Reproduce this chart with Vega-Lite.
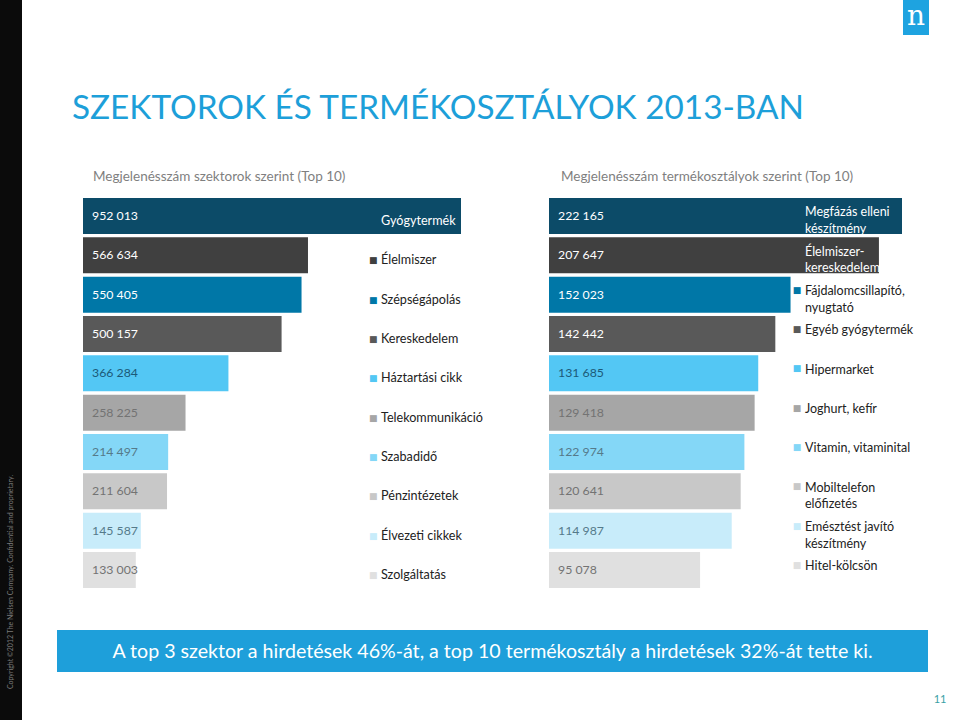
{
  "$schema": "https://vega.github.io/schema/vega-lite/v6.json",
  "padding": 0,
  "background": "white",
  "spacing": 0,
  "bounds": "full",
  "config": {"view": {"stroke": null}, "font": "Lato", "concat": {"spacing": 0}},
  "hconcat": [
    {
      "spacing": 0,
      "bounds": "flush",
      "vconcat": [
        {"width": 22, "height": 444, "view": {"fill": "#0b0b0b", "stroke": null}, "data": {"values": [{}]}, "mark": "text", "encoding": {"text": {"value": ""}}},
        {"width": 22, "height": 276, "view": {"fill": "#0b0b0b", "stroke": null},
         "data": {"values": [{"t": "Copyright ©2012 The Nielsen Company. Confidential and proprietary."}]},
         "mark": {"type": "text", "angle": 270, "fontSize": 7, "color": "#7a7a7a", "align": "center", "baseline": "middle"},
         "encoding": {"text": {"field": "t"}}}
      ]
    },
    {
      "spacing": 0,
      "bounds": "full",
      "vconcat": [
        {
          "spacing": 0, "bounds": "flush",
          "hconcat": [
            {"width": 881, "height": 130,
             "title": {"text": "SZEKTOROK ÉS TERMÉKOSZTÁLYOK 2013-BAN", "orient": "top", "anchor": "start", "frame": "group", "dx": 50, "offset": -152, "baseline": "alphabetic", "fontSize": 33.3, "fontWeight": "normal", "color": "#1d9fd9", "font": "Lato"},
             "data": {"values": [{}]}, "mark": "text", "encoding": {"text": {"value": ""}}},
            {"width": 26, "height": 35, "view": {"fill": "#1ea3e0", "stroke": null},
             "data": {"values": [{"t": "n"}]},
             "mark": {"type": "text", "font": "DejaVu Serif", "fontSize": 28, "color": "white", "align": "center", "baseline": "middle", "dy": -1},
             "encoding": {"text": {"field": "t"}}}
          ]
        },
        {
          "spacing": 0, "bounds": "flush",
          "hconcat": [
            {"width": 527, "height": 68,
             "title": {"text": "Megjelenésszám szektorok szerint (Top 10)", "orient": "top", "anchor": "start", "frame": "group", "dx": 71, "offset": -64, "baseline": "alphabetic", "fontSize": 13.5, "fontWeight": "normal", "color": "#7f7f7f", "font": "Lato"},
             "data": {"values": [{}]}, "mark": "text", "encoding": {"text": {"value": ""}}},
            {"width": 411, "height": 68,
             "title": {"text": "Megjelenésszám termékosztályok szerint (Top 10)", "orient": "top", "anchor": "start", "frame": "group", "dx": 12, "offset": -64, "baseline": "alphabetic", "fontSize": 13.5, "fontWeight": "normal", "color": "#7f7f7f", "font": "Lato"},
             "data": {"values": [{}]}, "mark": "text", "encoding": {"text": {"value": ""}}}
          ]
        },
        {
          "spacing": 0, "bounds": "flush",
          "hconcat": [
            {"width": 61, "height": 390, "data": {"values": [{}]}, "mark": "text", "encoding": {"text": {"value": ""}}},
            {
              "width": 437, "height": 390,
              "data": {"values": [
                {"rank": 1, "name": "Gyógytermék", "value": 952013, "label": "952 013"},
                {"rank": 2, "name": "Élelmiszer", "value": 566634, "label": "566 634"},
                {"rank": 3, "name": "Szépségápolás", "value": 550405, "label": "550 405"},
                {"rank": 4, "name": "Kereskedelem", "value": 500157, "label": "500 157"},
                {"rank": 5, "name": "Háztartási cikk", "value": 366284, "label": "366 284"},
                {"rank": 6, "name": "Telekommunikáció", "value": 258225, "label": "258 225"},
                {"rank": 7, "name": "Szabadidő", "value": 214497, "label": "214 497"},
                {"rank": 8, "name": "Pénzintézetek", "value": 211604, "label": "211 604"},
                {"rank": 9, "name": "Élvezeti cikkek", "value": 145587, "label": "145 587"},
                {"rank": 10, "name": "Szolgáltatás", "value": 133003, "label": "133 003"}
              ]},
              "encoding": {
                "y": {"field": "rank", "type": "ordinal", "axis": null, "scale": {"paddingInner": 0.085, "paddingOuter": 0}}
              },
              "layer": [
                {"mark": {"type": "bar"},
                 "encoding": {
                   "x": {"field": "value", "type": "quantitative", "axis": null, "scale": {"domain": [0, 1100605], "nice": false, "zero": true}},
                   "color": {"field": "rank", "type": "ordinal", "legend": null, "scale": {"domain": [1,2,3,4,5,6,7,8,9,10], "range": ["#0c4b68", "#404040", "#0077a7", "#595959", "#53c7f4", "#a6a6a6", "#84d7f7", "#c8c8c8", "#c8ecfa", "#e0e0e0"]}}
                 }},
                {"mark": {"type": "text", "align": "left", "baseline": "middle", "dx": 9, "fontSize": 12.3},
                 "encoding": {
                   "x": {"datum": 0, "type": "quantitative"},
                   "text": {"field": "label"},
                   "color": {"condition": [
                     {"test": "datum.rank <= 4", "value": "#ffffff"},
                     {"test": "datum.rank == 5", "value": "#1c5a78"},
                     {"test": "datum.rank == 7 || datum.rank == 9", "value": "#557a8a"}
                   ], "value": "#737373"}
                 }},
                {"mark": {"type": "text", "align": "center", "baseline": "middle", "dy": 5, "fontSize": 9, "font": "DejaVu Sans"},
                 "encoding": {
                   "x": {"datum": 731150, "type": "quantitative"},
                   "text": {"value": "■"},
                   "color": {"field": "rank", "type": "ordinal", "legend": null}
                 }},
                {"mark": {"type": "text", "align": "left", "baseline": "middle", "dy": 5, "fontSize": 12.6},
                 "encoding": {
                   "x": {"datum": 750528, "type": "quantitative"},
                   "text": {"field": "name"},
                   "color": {"condition": {"test": "datum.rank == 1", "value": "#ffffff"}, "value": "#222222"}
                 }}
              ]
            },
            {"width": 29, "height": 390, "data": {"values": [{}]}, "mark": "text", "encoding": {"text": {"value": ""}}},
            {
              "width": 380, "height": 390,
              "data": {"values": [
                {"rank": 1, "name": "Megfázás elleni\nkészítmény", "value": 222165, "label": "222 165"},
                {"rank": 2, "name": "Élelmiszer-\nkereskedelem", "value": 207647, "label": "207 647"},
                {"rank": 3, "name": "Fájdalomcsillapító,\nnyugtató", "value": 152023, "label": "152 023"},
                {"rank": 4, "name": "Egyéb gyógytermék", "value": 142442, "label": "142 442"},
                {"rank": 5, "name": "Hipermarket", "value": 131685, "label": "131 685"},
                {"rank": 6, "name": "Joghurt, kefír", "value": 129418, "label": "129 418"},
                {"rank": 7, "name": "Vitamin, vitaminital", "value": 122974, "label": "122 974"},
                {"rank": 8, "name": "Mobiltelefon\nelőfizetés", "value": 120641, "label": "120 641"},
                {"rank": 9, "name": "Emésztést javító\nkészítmény", "value": 114987, "label": "114 987"},
                {"rank": 10, "name": "Hitel-kölcsön", "value": 95078, "label": "95 078"}
              ]},
              "encoding": {
                "y": {"field": "rank", "type": "ordinal", "axis": null, "scale": {"paddingInner": 0.085, "paddingOuter": 0}}
              },
              "layer": [
                {"mark": {"type": "bar"},
                 "encoding": {
                   "x": {"field": "value", "type": "quantitative", "axis": null, "scale": {"domain": [0, 239158], "nice": false, "zero": true}},
                   "color": {"field": "rank", "type": "ordinal", "legend": null, "scale": {"domain": [1,2,3,4,5,6,7,8,9,10], "range": ["#0c4b68", "#404040", "#0077a7", "#595959", "#53c7f4", "#a6a6a6", "#84d7f7", "#c8c8c8", "#c8ecfa", "#e0e0e0"]}}
                 }},
                {"mark": {"type": "text", "align": "left", "baseline": "middle", "dx": 9, "fontSize": 12.3},
                 "encoding": {
                   "x": {"datum": 0, "type": "quantitative"},
                   "text": {"field": "label"},
                   "color": {"condition": [
                     {"test": "datum.rank <= 4", "value": "#ffffff"},
                     {"test": "datum.rank == 5", "value": "#1c5a78"},
                     {"test": "datum.rank == 7 || datum.rank == 9", "value": "#557a8a"}
                   ], "value": "#737373"}
                 }},
                {"mark": {"type": "text", "align": "center", "baseline": "middle", "dy": -5, "fontSize": 9, "font": "DejaVu Sans"},
                 "encoding": {
                   "x": {"datum": 156081, "type": "quantitative"},
                   "text": {"value": "■"},
                   "color": {"field": "rank", "type": "ordinal", "legend": null}
                 }},
                {"mark": {"type": "text", "align": "left", "baseline": "top", "dy": -9.6, "fontSize": 12.5, "lineBreak": "\n", "lineHeight": 16.5},
                 "encoding": {
                   "x": {"datum": 161116, "type": "quantitative"},
                   "text": {"field": "name"},
                   "color": {"condition": {"test": "datum.rank <= 2", "value": "#ffffff"}, "value": "#222222"}
                 }}
              ]
            },
            {"width": 31, "height": 390, "data": {"values": [{}]}, "mark": "text", "encoding": {"text": {"value": ""}}}
          ]
        },
        {"width": 938, "height": 42, "data": {"values": [{}]}, "mark": "text", "encoding": {"text": {"value": ""}}},
        {
          "spacing": 0, "bounds": "flush",
          "hconcat": [
            {"width": 35, "height": 42, "data": {"values": [{}]}, "mark": "text", "encoding": {"text": {"value": ""}}},
            {"width": 871, "height": 42, "view": {"fill": "#1e9fda", "stroke": null},
             "data": {"values": [{"t": "A top 3 szektor a hirdetések 46%-át, a top 10 termékosztály a hirdetések 32%-át tette ki."}]},
             "mark": {"type": "text", "color": "white", "fontSize": 19.6, "align": "center", "baseline": "middle", "dy": 1},
             "encoding": {"text": {"field": "t"}}},
            {"width": 32, "height": 42, "data": {"values": [{}]}, "mark": "text", "encoding": {"text": {"value": ""}}}
          ]
        },
        {
          "spacing": 0, "bounds": "flush",
          "hconcat": [
            {"width": 906, "height": 48, "data": {"values": [{}]}, "mark": "text", "encoding": {"text": {"value": ""}}},
            {"width": 24, "height": 48,
             "data": {"values": [{"t": "11"}]},
             "mark": {"type": "text", "color": "#3a9fa6", "fontSize": 11, "align": "center", "baseline": "middle", "dy": 4},
             "encoding": {"text": {"field": "t"}}},
            {"width": 8, "height": 48, "data": {"values": [{}]}, "mark": "text", "encoding": {"text": {"value": ""}}}
          ]
        }
      ]
    }
  ]
}
